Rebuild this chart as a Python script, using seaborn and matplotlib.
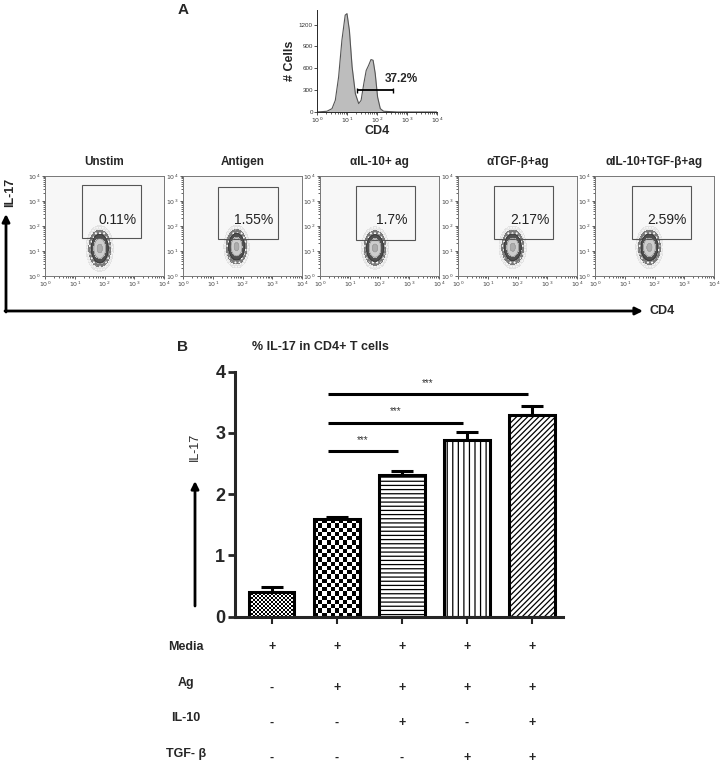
import numpy as np
import matplotlib
matplotlib.use("Agg")
import matplotlib.pyplot as plt
import seaborn as sns
from matplotlib.patches import Rectangle
from matplotlib.transforms import blended_transform_factory

# ---- panel A, CD4 histogram (x in log10 units)
hist_logcd4 = [0.0, 0.33, 0.5, 0.61, 0.72, 0.83, 0.94, 1.0, 1.08, 1.17, 1.28, 1.39,
               1.47, 1.56, 1.64, 1.72, 1.8, 1.87, 1.94, 2.02, 2.11, 2.22, 2.67, 4.0]
hist_cells = [0, 10, 46, 160, 480, 985, 1330, 1350, 1120, 620, 250, 115,
              160, 390, 570, 640, 720, 710, 530, 205, 46, 10, 0, 0]
hist_gate = [1.33, 2.53]
hist_gate_level = 300
hist_gate_label = "37.2%"

# ---- panel A, IL-17 vs CD4 dot plots
panel_titles = ["Unstim", "Antigen", "αIL-10+ ag", "αTGF-β+ag", "αIL-10+TGF-β+ag"]
panel_pct = ["0.11%", "1.55%", "1.7%", "2.17%", "2.59%"]
cluster_cd4 = [1.84, 1.8, 1.85, 1.84, 1.83]
cluster_il17 = [1.1, 1.17, 1.12, 1.15, 1.15]
cluster_sd_cd4 = [0.15, 0.14, 0.15, 0.15, 0.15]
cluster_sd_il17 = [0.3, 0.28, 0.28, 0.28, 0.28]
gate_cd4_lo = [1.23, 1.19, 1.21, 1.21, 1.23]
gate_cd4_hi = [3.23, 3.19, 3.21, 3.2, 3.22]
gate_il17_lo = [1.52, 1.48, 1.44, 1.47, 1.47]
gate_il17_hi = [3.64, 3.57, 3.6, 3.6, 3.6]

# ---- panel B, bar chart
groups = ["Media", "Ag", "Ag+IL-10", "Ag+TGF-β", "Ag+IL-10+TGF-β"]
il17_mean = [0.41, 1.59, 2.31, 2.88, 3.29]
il17_err = [0.08, 0.04, 0.07, 0.14, 0.15]
sig_from = [1, 1, 1]
sig_to = [2, 3, 4]
sig_level = [2.70, 3.17, 3.63]
table_rows = ["Media", "Ag", "IL-10", "TGF- β"]
table_signs = [["+", "+", "+", "+", "+"],
               ["-", "+", "+", "+", "+"],
               ["-", "-", "+", "-", "+"],
               ["-", "-", "-", "+", "+"]]

sns.set_style("ticks")
plt.rcParams["font.family"] = ["Liberation Sans", "DejaVu Sans"]
plt.rcParams["hatch.linewidth"] = 0.9

W, H = 721, 765
fig = plt.figure(figsize=(W / 100, H / 100), dpi=100)


def box(left, top, width, height):
    return [left / W, 1 - (top + height) / H, width / W, height / H]


decades = ["$10^{%d}$" % i for i in range(5)]
minor = [d + np.log10(m) for d in range(4) for m in range(2, 10)]

# ---------- histogram
ax_h = fig.add_axes(box(317, 10, 120, 102))
ax_h.fill_between(hist_logcd4, hist_cells, color="#bdbdbd", lw=0)
sns.lineplot(x=hist_logcd4, y=hist_cells, ax=ax_h, color="#555555", lw=0.8)
ax_h.hlines(hist_gate_level, *hist_gate, color="black", lw=1.3)
ax_h.vlines(hist_gate, hist_gate_level - 35, hist_gate_level + 35, color="black", lw=1)
ax_h.text(2.8, 450, hist_gate_label, fontsize=8.5, fontweight="bold", ha="center", va="center")
ax_h.set_xlim(0, 4)
ax_h.set_ylim(0, 1400)
ax_h.set_xticks(range(5))
ax_h.set_xticklabels(decades)
ax_h.set_xticks(minor, minor=True)
ax_h.set_yticks([0, 300, 600, 900, 1200])
ax_h.tick_params(labelsize=4.5, length=2, width=0.6, pad=1, colors="#333333")
ax_h.tick_params(which="minor", length=1.2, width=0.5)
for s in ["top", "right"]:
    ax_h.spines[s].set_visible(False)
for s in ["left", "bottom"]:
    ax_h.spines[s].set_linewidth(0.7)
ax_h.set_xlabel("CD4", fontsize=9, fontweight="bold", labelpad=0)
ax_h.set_ylabel("# Cells", fontsize=9, fontweight="bold", labelpad=2)

# ---------- dot plots
gx, gy = np.meshgrid(np.linspace(0, 4, 300), np.linspace(0, 4, 300))
for i, left in enumerate([45, 183, 320, 458, 595]):
    ax = fig.add_axes(box(left, 176, 119, 100))
    ax.set_facecolor("#f7f7f7")
    dens = np.exp(-0.5 * ((gx - cluster_cd4[i]) / cluster_sd_cd4[i]) ** 2
                  - 0.5 * ((gy - cluster_il17[i]) / cluster_sd_il17[i]) ** 2)
    ax.contourf(gx, gy, dens, levels=[0.01, 0.05, 0.17, 0.42, 0.85, 1.01],
                colors=["#e2e2e2", "#7a7a7a", "#505050", "#cdcdcd", "#adadad"],
                hatches=["......", "....", None, None, None])
    ax.contour(gx, gy, dens, levels=[0.17, 0.42, 0.85],
               colors=["#333333", "#777777", "#999999"], linewidths=0.4)
    ax.add_patch(Rectangle((gate_cd4_lo[i], gate_il17_lo[i]),
                           gate_cd4_hi[i] - gate_cd4_lo[i],
                           gate_il17_hi[i] - gate_il17_lo[i],
                           fill=False, ec="#555555", lw=0.8))
    ax.text((gate_cd4_lo[i] + gate_cd4_hi[i]) / 2 + 0.2, 2.24, panel_pct[i],
            fontsize=10, color="#222222", ha="center", va="center")
    ax.set_xlim(0, 4)
    ax.set_ylim(0, 4)
    ax.set_xticks(range(5))
    ax.set_xticklabels(decades)
    ax.set_yticks(range(5))
    ax.set_yticklabels(decades)
    ax.set_xticks(minor, minor=True)
    ax.set_yticks(minor, minor=True)
    ax.tick_params(labelsize=4.5, length=2, width=0.6, pad=1, colors="#444444")
    ax.tick_params(which="minor", length=1.2, width=0.5)
    for s in ax.spines.values():
        s.set_linewidth(0.7)
        s.set_color("#777777")
    ax.set_title(panel_titles[i], fontsize=8.5, fontweight="bold", pad=8)

# ---------- bar chart
ax_b = fig.add_axes(box(235, 371.7, 328, 245))
sns.barplot(x=groups, y=il17_mean, ax=ax_b, color="white", edgecolor="black",
            linewidth=2.2, width=0.7, zorder=2)
ax_b.errorbar(range(len(groups)), il17_mean, yerr=[np.zeros(len(groups)), il17_err],
              fmt="none", ecolor="black", elinewidth=2.2, capsize=8, capthick=2.2, zorder=1)
ax_b.set_xlim(-0.565, 4.48)
ax_b.set_ylim(0, 4)

hatches = [None, None, "----", "|||", "//////"]
for bar, hatch in zip(ax_b.patches, hatches):
    if hatch:
        bar.set_hatch(hatch)

# checker fills for the first two bars
for bar, cell_px in zip(ax_b.patches[:2], [2.0, 4.2]):
    x0, w, h = bar.get_x(), bar.get_width(), bar.get_height()
    p0, p1 = ax_b.transData.transform([(x0, 0), (x0 + w, h)])
    nc = max(1, int(round((p1[0] - p0[0]) / cell_px)))
    nr = max(1, int(round((p1[1] - p0[1]) / cell_px)))
    checker = np.add.outer(np.arange(nr), np.arange(nc)) % 2
    bar.set_facecolor("none")
    ax_b.imshow(checker, cmap="gray", extent=(x0, x0 + w, 0, h), aspect="auto",
                interpolation="nearest", clip_path=bar, zorder=1.5)
ax_b.set_xlim(-0.565, 4.48)
ax_b.set_ylim(0, 4)

for a, b, lvl in zip(sig_from, sig_to, sig_level):
    x0, x1 = a - 0.13, b - 0.06
    ax_b.plot([x0, x1], [lvl, lvl], color="black", lw=2.2, solid_capstyle="butt")
    ax_b.text((x0 + x1) / 2, lvl + 0.1, "***", fontsize=7, color="#333333",
              ha="center", va="bottom")

ax_b.set_yticks(range(5))
ax_b.set_xticks(range(len(groups)))
ax_b.set_xticklabels([""] * len(groups))
ax_b.tick_params(axis="y", labelsize=13, length=5, width=2, pad=2)
ax_b.tick_params(axis="x", length=5, width=1.5)
for lab in ax_b.get_yticklabels():
    lab.set_fontweight("bold")
for s in ["top", "right"]:
    ax_b.spines[s].set_visible(False)
for s in ["left", "bottom"]:
    ax_b.spines[s].set_linewidth(2.2)
ax_b.set_xlabel("")

# ---------- overlay for arrows and free text (pixel coordinates)
ax_o = fig.add_axes([0, 0, 1, 1], facecolor="none")
ax_o.set_xlim(0, W)
ax_o.set_ylim(H, 0)
ax_o.axis("off")

arrow = dict(arrowstyle="-|>", lw=2, color="black", mutation_scale=11, shrinkA=0, shrinkB=0)
ax_o.annotate("", xy=(6, 214), xytext=(6, 312), arrowprops=arrow)
ax_o.annotate("", xy=(643, 311), xytext=(5, 311), arrowprops=arrow)
ax_o.text(10, 192, "IL-17", rotation=90, fontsize=9, fontweight="bold", ha="center", va="center")
ax_o.text(650, 311, "CD4", fontsize=9, fontweight="bold", ha="left", va="center")

ax_o.text(183, 10, "A", fontsize=11, fontweight="bold", ha="center", va="center")
ax_o.text(183, 347, "B", fontsize=11, fontweight="bold", ha="center", va="center")
ax_o.text(320, 347, "% IL-17 in CD4+ T cells", fontsize=9, fontweight="bold",
          ha="center", va="center")

ax_o.annotate("", xy=(195, 481), xytext=(195, 606), arrowprops=arrow)
ax_o.text(195, 447, "IL-17", rotation=90, fontsize=9, ha="center", va="center")

mixed = blended_transform_factory(ax_b.transData, ax_o.transData)
row_label_y = [647, 683, 718, 754]
row_sign_y = [647, 688, 723, 758]
for r, name in enumerate(table_rows):
    ax_o.text(186, row_label_y[r], name, fontsize=9, fontweight="bold", ha="center", va="center")
    for c, sign in enumerate(table_signs[r]):
        ax_o.text(c, row_sign_y[r], sign, transform=mixed, fontsize=9,
                  fontweight="bold", ha="center", va="center")

fig.savefig("out.png", dpi=100)
